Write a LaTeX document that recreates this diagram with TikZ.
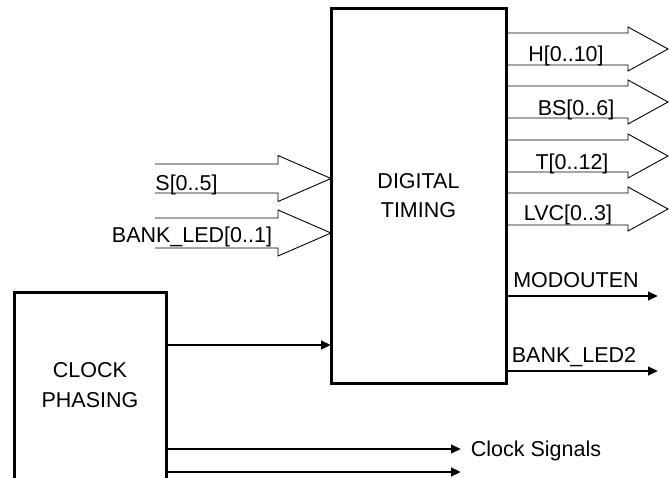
\documentclass[tikz,border=0pt]{standalone}
\usepackage{fontspec}
\setmainfont{Liberation Sans}
\usetikzlibrary{arrows.meta,calc}
\begin{document}
\begin{tikzpicture}[x=1pt,y=-1pt,
  blk/.style={line width=3pt,inner sep=0pt,outer sep=0pt,align=center,
    font=\fontsize{21.5}{29.5}\selectfont},
  sig/.style={line width=2.5pt,-{Triangle[length=10pt,width=8.5pt]}},
  bus/.style={line width=0.9pt,line join=miter},
  lbl/.style={font=\fontsize{21.5}{25}\selectfont,inner sep=0pt}]
\useasboundingbox (0,0) rectangle (669,477);
% blocks
\node[blk,draw,minimum width=175pt,minimum height=375pt,anchor=north west] (dt) at (331,8) {DIGITAL\\TIMING};
\node[blk,minimum width=152pt,minimum height=186pt,anchor=north west] (cp) at (14,292) {CLOCK\\PHASING};
\draw[line width=3pt] (cp.south west) -- (cp.north west) -- (cp.north east) -- (cp.south east);
% input buses
\coordinate (s0) at (155,178.5);
\coordinate (b0) at (155,233);
\draw[bus] ($(s0)+(0,-14.5)$) -- (278,164) -- (278,155.5) -- (dt.west |- s0) -- (278,201.5) -- (278,193) -- ($(s0)+(0,14.5)$);
\draw[bus] ($(b0)+(0,-15)$) -- (278,218) -- (278,210) -- (dt.west |- b0) -- (278,256) -- (278,248) -- ($(b0)+(0,15)$);
\node[lbl,anchor=base] (ls) at (186.5,190) {S[0..5]};
\node[lbl,anchor=base] (lb) at (192,242) {BANK\_LED[0..1]};
% output buses
\foreach \c/\t/\lx/\ly/\nm in {49/H[0..10]/566/61/oh, 102/BS[0..6]/576/115/obs, 156/T[0..12]/572/169.5/ot, 209/LVC[0..3]/568/220/olvc}{
  \coordinate (\nm) at (668,\c);
  \draw[bus] (dt.east |- 0,\c-16) -- (628,\c-16) -- (628,\c-22) -- (\nm) -- (628,\c+22) -- (628,\c+16) -- (dt.east |- 0,\c+16);
  \node[lbl,anchor=base] (l\nm) at (\lx,\ly) {\t};
}
% single signals
\coordinate (mo) at (658,296);
\coordinate (bl2) at (658,371);
\draw[sig] (dt.east |- mo) -- (mo);
\draw[sig] (dt.east |- bl2) -- (bl2);
\node[lbl,anchor=base] (lmo) at (576,287) {MODOUTEN};
\node[lbl,anchor=base] (lbl2) at (574,362) {BANK\_LED2};
\draw[sig] (cp.east |- 0,345) -- (dt.west |- 0,345);
\coordinate (cs1) at (461,449);
\coordinate (cs2) at (461,472);
\draw[sig] (cp.east |- cs1) -- (cs1);
\draw[sig] (cp.east |- cs2) -- (cs2);
\node[lbl,anchor=base] (lcs) at (536,456) {Clock Signals};
\end{tikzpicture}
\end{document}
